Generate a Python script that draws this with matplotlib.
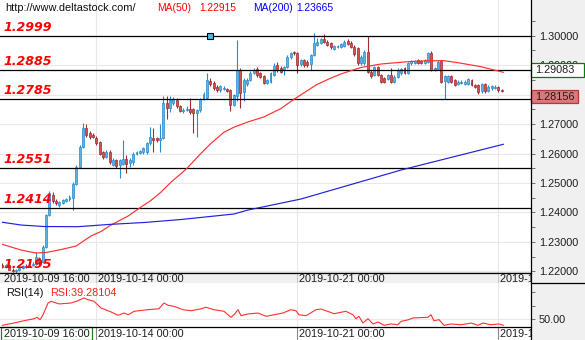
import matplotlib
matplotlib.use('Agg')
import matplotlib.pyplot as plt
from matplotlib.patches import Rectangle
from matplotlib.lines import Line2D
from matplotlib.transforms import Bbox, TransformedBbox, blended_transform_factory, offset_copy
import numpy as np

plt.rcParams['font.family'] = ['Liberation Sans', 'DejaVu Sans']

# ---------------- data ----------------
opens = [1.2222,1.2216,1.2221,1.2206,1.2200,1.2205,1.2211,1.2219,1.2215,1.2223,
         1.2226,1.2245,1.2232,1.2284,1.2392,1.2460,1.2440,1.2425,1.2432,1.2440,
         1.2444,1.2448,1.2498,1.2555,1.2623,1.2686,1.2670,1.2663,1.2653,1.2638,
         1.2605,1.2588,1.2605,1.2561,1.2578,1.2561,1.2566,1.2583,1.2567,1.2571,
         1.2600,1.2603,1.2605,1.2605,1.2634,1.2651,1.2651,1.2645,1.2652,1.2772,
         1.2754,1.2771,1.2782,1.2761,1.2743,1.2748,1.2751,1.2751,1.2737,1.2748,
         1.2786,1.2790,1.2847,1.2839,1.2827,1.2815,1.2819,1.2818,1.2815,1.2764,
         1.2795,1.2884,1.2810,1.2836,1.2850,1.2874,1.2886,1.2872,1.2863,1.2840,
         1.2844,1.2867,1.2900,1.2892,1.2883,1.2894,1.2927,1.2944,1.2940,1.2903,
         1.2917,1.2912,1.2903,1.2934,1.2969,1.2976,1.2988,1.2980,1.2974,1.2955,
         1.2961,1.2962,1.2965,1.2983,1.2976,1.2963,1.2958,1.2906,1.2908,1.2946,
         1.2878,1.2866,1.2894,1.2866,1.2855,1.2852,1.2866,1.2844,1.2859,1.2873,
         1.2889,1.2874,1.2906,1.2907,1.2917,1.2915,1.2908,1.2912,1.2940,1.2884,
         1.2887,1.2915,1.2847,1.2844,1.2863,1.2850,1.2836,1.2839,1.2836,1.2836,
         1.2850,1.2833,1.2833,1.2813,1.2836,1.2813,1.2821,1.2822,1.2826,1.2815]
highs = [1.2228,1.2225,1.2224,1.2210,1.2208,1.2214,1.2222,1.2224,1.2226,1.2230,
         1.2264,1.2250,1.2290,1.2395,1.2472,1.2468,1.2446,1.2440,1.2447,1.2450,
         1.2460,1.2502,1.2560,1.2630,1.2704,1.2700,1.2676,1.2670,1.2658,1.2642,
         1.2610,1.2612,1.2612,1.2584,1.2582,1.2582,1.2646,1.2595,1.2585,1.2606,
         1.2610,1.2612,1.2622,1.2640,1.2691,1.2685,1.2656,1.2700,1.2795,1.2795,
         1.2795,1.2792,1.2790,1.2765,1.2755,1.2760,1.2787,1.2756,1.2752,1.2790,
         1.2808,1.2874,1.2855,1.2845,1.2832,1.2833,1.2830,1.2822,1.2820,1.2802,
         1.2985,1.2892,1.2856,1.2856,1.2880,1.2890,1.2895,1.2876,1.2866,1.2853,
         1.2876,1.2908,1.2912,1.2896,1.2898,1.2933,1.2946,1.2948,1.2945,1.2920,
         1.2921,1.2916,1.2938,1.3010,1.2991,1.2992,1.3006,1.2985,1.2978,1.2968,
         1.2970,1.2976,1.2984,1.2988,1.2982,1.2967,1.2962,1.2933,1.2950,1.2999,
         1.2882,1.2898,1.2898,1.2870,1.2860,1.2870,1.2889,1.2866,1.2889,1.2890,
         1.2893,1.2910,1.2918,1.2919,1.2921,1.2919,1.2921,1.2944,1.2948,1.2893,
         1.2916,1.2919,1.2867,1.2867,1.2867,1.2854,1.2848,1.2848,1.2848,1.2856,
         1.2854,1.2837,1.2837,1.2839,1.2840,1.2831,1.2834,1.2831,1.2830,1.2818]
lows = [1.2212,1.2210,1.2203,1.2196,1.2195,1.2201,1.2208,1.2212,1.2213,1.2218,
        1.2220,1.2222,1.2228,1.2280,1.2388,1.2432,1.2425,1.2420,1.2428,1.2436,
        1.2440,1.2408,1.2494,1.2550,1.2618,1.2655,1.2650,1.2652,1.2630,1.2595,
        1.2583,1.2584,1.2566,1.2557,1.2550,1.2517,1.2560,1.2534,1.2555,1.2560,
        1.2596,1.2600,1.2600,1.2600,1.2628,1.2606,1.2640,1.2606,1.2648,1.2717,
        1.2740,1.2765,1.2755,1.2740,1.2738,1.2744,1.2735,1.2670,1.2655,1.2742,
        1.2780,1.2785,1.2830,1.2815,1.2810,1.2810,1.2815,1.2808,1.2745,1.2760,
        1.2778,1.2754,1.2778,1.2830,1.2845,1.2870,1.2860,1.2855,1.2835,1.2836,
        1.2840,1.2862,1.2878,1.2872,1.2866,1.2890,1.2922,1.2935,1.2872,1.2898,
        1.2895,1.2895,1.2884,1.2930,1.2965,1.2972,1.2975,1.2964,1.2956,1.2950,
        1.2957,1.2958,1.2960,1.2968,1.2958,1.2932,1.2900,1.2900,1.2902,1.2874,
        1.2858,1.2862,1.2862,1.2838,1.2840,1.2848,1.2840,1.2840,1.2855,1.2868,
        1.2870,1.2870,1.2901,1.2903,1.2904,1.2904,1.2904,1.2908,1.2880,1.2880,
        1.2883,1.2840,1.2784,1.2840,1.2840,1.2829,1.2832,1.2835,1.2832,1.2832,
        1.2829,1.2821,1.2802,1.2806,1.2806,1.2809,1.2817,1.2818,1.2810,1.2808]
closes = [1.2216,1.2221,1.2206,1.2200,1.2205,1.2211,1.2219,1.2215,1.2223,1.2226,
          1.2248,1.2230,1.2284,1.2392,1.2466,1.2440,1.2432,1.2436,1.2442,1.2446,
          1.2454,1.2498,1.2555,1.2623,1.2686,1.2663,1.2656,1.2657,1.2636,1.2600,
          1.2588,1.2605,1.2571,1.2578,1.2556,1.2578,1.2583,1.2566,1.2578,1.2600,
          1.2605,1.2607,1.2617,1.2634,1.2656,1.2645,1.2645,1.2651,1.2771,1.2753,
          1.2781,1.2784,1.2761,1.2745,1.2749,1.2752,1.2740,1.2737,1.2748,1.2786,
          1.2803,1.2850,1.2836,1.2821,1.2816,1.2828,1.2824,1.2813,1.2764,1.2798,
          1.2884,1.2805,1.2850,1.2850,1.2874,1.2884,1.2866,1.2860,1.2840,1.2849,
          1.2872,1.2897,1.2883,1.2877,1.2894,1.2929,1.2942,1.2940,1.2900,1.2916,
          1.2900,1.2900,1.2934,1.2974,1.2980,1.2988,1.2980,1.2969,1.2961,1.2964,
          1.2966,1.2972,1.2980,1.2972,1.2963,1.2937,1.2906,1.2929,1.2946,1.2878,
          1.2863,1.2894,1.2866,1.2844,1.2844,1.2866,1.2844,1.2861,1.2883,1.2886,
          1.2874,1.2906,1.2914,1.2915,1.2908,1.2908,1.2917,1.2940,1.2884,1.2889,
          1.2912,1.2844,1.2863,1.2863,1.2844,1.2833,1.2844,1.2844,1.2844,1.2852,
          1.2833,1.2825,1.2810,1.2835,1.2813,1.2827,1.2830,1.2827,1.2814,1.2811]

ma50_idx = [0, 5.5, 10, 13, 17.5, 22, 26.4, 29.4, 32.4, 37.5, 40.7, 44.3, 47.3, 50.3,
            53.3, 55.4, 59.3, 62.2, 66.1, 69.1, 73.3, 78, 83.1, 87, 89.1, 93.6, 97.2,
            101, 104, 107, 113, 121, 127, 131.8, 136, 142.8, 149.5]
ma50_val = [1.22915, 1.22723, 1.22622, 1.22639, 1.22740, 1.22859, 1.23199, 1.23352,
            1.23573, 1.23878, 1.24133, 1.24405, 1.24688, 1.25028, 1.25316, 1.25537,
            1.26012, 1.26340, 1.26723, 1.26893, 1.27073, 1.27240, 1.27526, 1.27841,
            1.27994, 1.28326, 1.28520, 1.28700, 1.28812, 1.28920, 1.29039, 1.29117,
            1.29151, 1.29151, 1.29083, 1.28948, 1.28757]
ma200_idx = [0, 5.5, 12.4, 22.5, 32.4, 42.2, 53.3, 69.1, 73.3, 89.1, 119, 149.5]
ma200_val = [1.23665, 1.23572, 1.23521, 1.23515, 1.23596, 1.23657, 1.23759, 1.23946,
             1.24082, 1.24455, 1.25440, 1.26313]

rsi_idx = [0, 3.4, 6.4, 9.4, 10.3, 11.2, 12.1, 13.6, 14.5, 16.9, 20.4, 22.5, 24.3, 25.5,
           27.3, 29.4, 32.4, 34.5, 36.3, 37.5, 39.3, 43.4, 46.7, 48.2, 49.4, 51.2, 53.9,
           56.3, 59.3, 60.7, 63.1, 66.1, 68.2, 69.1, 70.3, 71.2, 73.3, 76.3, 78.7, 81,
           83.7, 86.1, 87.6, 88.5, 90.6, 93.6, 95.1, 99, 102.5, 104.6, 105.5, 106.4,
           107.6, 109.1, 110.6, 112.1, 113.9, 116, 118, 119, 121.3, 122.5, 127, 127.9,
           128.8, 130.3, 131.8, 133.9, 136.9, 139.9, 141.9, 143.4, 145.8, 148.2, 149.5]
rsi_val = [45.3, 47.0, 48.7, 50.2, 51.3, 49.5, 53.2, 62.0, 63.3, 61.3, 62.0, 63.7, 65.8,
           64.5, 63.3, 58.3, 55.3, 52.8, 54.5, 53.2, 55.8, 57.0, 57.7, 62.0, 60.3, 59.5,
           57.0, 56.2, 57.7, 58.8, 57.0, 55.8, 51.3, 53.2, 57.0, 52.5, 53.8, 54.5, 52.0,
           53.2, 54.5, 57.0, 56.2, 53.2, 52.5, 57.0, 57.5, 54.0, 55.8, 53.2, 50.2, 52.0,
           47.0, 50.2, 46.3, 47.8, 45.3, 46.3, 45.7, 48.3, 49.5, 50.8, 51.3, 53.2, 48.7,
           49.5, 45.3, 46.3, 45.7, 47.0, 45.3, 47.0, 45.7, 46.3, 45.3]

levels = [1.2999, 1.2885, 1.2785, 1.2551, 1.2414, 1.2195]
level_labels = ['1.2999', '1.2885', '1.2785', '1.2551', '1.2414', '1.2195']
date_idx = [0, 28, 88, 148]
date_labels = ['2019-10-09 16:00', '2019-10-14 00:00', '2019-10-21 00:00', '2019-10-28 00:00']
price_ticks = [1.22, 1.23, 1.24, 1.25, 1.26, 1.27, 1.28, 1.29, 1.30]
# 1.28000 is fully hidden behind the current-price box in the reference
price_tick_labels = ['1.22000', '1.23000', '1.24000', '1.25000', '1.26000', '1.27000',
                     '', '1.29000', '1.30000']
marker_idx, marker_price = 62, 1.2999

# ---------------- layout ----------------
W, H = 585, 340
fig = plt.figure(figsize=(5.85, 3.4), dpi=100)
fig.patch.set_facecolor('white')

def fx(px): return px / W
def fy(py): return 1 - py / H

PLOT_R = 531
MAIN_B = 272.7
RSI_T, RSI_B = 283.0, 327.3
FS = 7.8

ax = fig.add_axes([0, fy(MAIN_B), fx(PLOT_R), MAIN_B / H])
axr = fig.add_axes([0, fy(RSI_B), fx(PLOT_R), (RSI_B - RSI_T) / H])

xmin, xmax = -0.746, 157.76
for a in (ax, axr):
    a.set_xlim(xmin, xmax)
    a.set_facecolor('white')
    for s in a.spines.values():
        s.set_visible(False)
    a.set_xticks([])
    a.yaxis.tick_right()
    a.tick_params(axis='y', which='both', direction='out', length=2.9, width=0.7,
                  color='#707070', pad=2.9, labelsize=FS, labelcolor='#1e1e1e')
    for gx in date_idx[1:]:
        a.axvline(gx, color='#e8e8e8', lw=0.8, zorder=0)

ax.set_ylim(1.21953, 1.31212)
axr.set_ylim(43.8, 77)

ax.set_yticks(price_ticks)
ax.set_yticklabels(price_tick_labels)
ax.set_yticks([t + 0.005 for t in price_ticks], minor=True)
for t in price_ticks:
    ax.axhline(t, color='#e8e8e8', lw=0.8, zorder=0)

axr.set_yticks([50, 60, 70])
axr.set_yticklabels(['50.00', '', ''])
axr.axhline(50, color='#e8e8e8', lw=0.8, zorder=0)

# ---------------- candles ----------------
O = np.array(opens); C = np.array(closes); Hh = np.array(highs); L = np.array(lows)
idx = np.arange(len(O))
up = C >= O
bull_fill, bull_edge = '#5cb3e6', '#2a8ad0'
bear_fill, bear_edge = '#c95557', '#a32a2e'
ax.vlines(idx[up], L[up], Hh[up], color=bull_edge, lw=0.8, zorder=3)
ax.vlines(idx[~up], L[~up], Hh[~up], color=bear_edge, lw=0.8, zorder=3)
body_lo = np.minimum(O, C)
body_h = np.maximum(np.abs(C - O), 0.00012)
ax.bar(idx[up], body_h[up], bottom=body_lo[up], width=0.58, color=bull_fill,
       edgecolor=bull_edge, lw=0.5, zorder=4)
ax.bar(idx[~up], body_h[~up], bottom=body_lo[~up], width=0.58, color=bear_fill,
       edgecolor=bear_edge, lw=0.5, zorder=4)

# moving averages
ax.plot(ma50_idx, ma50_val, color='#ff3030', lw=0.85, zorder=6)
ax.plot(ma200_idx, ma200_val, color='#2020e0', lw=0.85, zorder=6)

# levels
lab_tr = offset_copy(blended_transform_factory(ax.transAxes, ax.transData), fig=fig,
                     x=0, y=5, units='dots')
for lv, lb in zip(levels, level_labels):
    ax.axhline(lv, color='black', lw=0.9, zorder=5)
    ax.text(3 / PLOT_R, lv, lb, transform=lab_tr, ha='left', va='baseline',
            family='DejaVu Sans', fontweight='bold', fontstyle='italic',
            fontsize=9.1, color='#ff0000', zorder=7)

ax.plot([marker_idx], [marker_price], marker='s', ms=4.3, mfc='#4db8ea', mec='black',
        mew=0.8, zorder=8, linestyle='none')

# RSI
axr.plot(rsi_idx, rsi_val, color='#ff3030', lw=0.8, zorder=3)

# ---------------- decorations ----------------
fig.patches.append(Rectangle((fx(PLOT_R), 0), fx(W - PLOT_R), 1, transform=fig.transFigure,
                             fc='#f0f0f0', ec='none', zorder=-1))
fig.patches.append(Rectangle((0, fy(RSI_T)), fx(PLOT_R), (RSI_T - MAIN_B) / H,
                             transform=fig.transFigure, fc='#f0f0f0', ec='none', zorder=-1))

def fline(x0, x1, y0, y1, **kw):
    fig.add_artist(Line2D([fx(x0), fx(x1)], [fy(y0), fy(y1)], transform=fig.transFigure, **kw))

fline(0, PLOT_R, MAIN_B, MAIN_B, color='black', lw=0.9, zorder=5)
fline(0, PLOT_R, RSI_B, RSI_B, color='black', lw=0.9, zorder=5)
fline(PLOT_R, PLOT_R, 0, H, color='black', lw=0.9, zorder=5)
fline(PLOT_R, W, RSI_T, RSI_T, color='black', lw=0.9, zorder=5)

# band tick lines
for gx in date_idx[1:]:
    ax.vlines(gx, -(RSI_T - MAIN_B) / MAIN_B, 0, transform=ax.get_xaxis_transform(),
              color='#c8c8c8', lw=0.8, clip_on=False)
    axr.vlines(gx, -(H - RSI_B) / (RSI_B - RSI_T), 0, transform=axr.get_xaxis_transform(),
               color='#8a8a8a', lw=0.8, clip_on=False)

clipbox = TransformedBbox(Bbox([[0, 0], [fx(PLOT_R), 1]]), fig.transFigure)
tr_top = offset_copy(ax.get_xaxis_transform(), fig=fig, x=1.5, y=0, units='dots')
tr_bot = offset_copy(axr.get_xaxis_transform(), fig=fig, x=1.5, y=0, units='dots')
for gi, gl in zip(date_idx, date_labels):
    t = ax.text(gi, -(279 - MAIN_B) / MAIN_B, gl, transform=tr_top, ha='left',
                va='center', fontsize=FS, color='#1e1e1e', clip_on=True)
    t.set_clip_box(clipbox)
    t2 = axr.text(gi, -(334.2 - RSI_B) / (RSI_B - RSI_T), gl, transform=tr_bot,
                  ha='left', va='center', fontsize=FS, color='#1e1e1e', clip_on=True)
    t2.set_clip_box(clipbox)

fig.patches.append(Rectangle((fx(1), fy(339.6)), fx(91), 12.2 / H, transform=fig.transFigure,
                             fill=False, ec='#2a7a2a', lw=0.9, zorder=2))

# header
HFS = 7.4
fig.text(fx(5), fy(8), 'http://www.deltastock.com/', va='center', ha='left',
         fontsize=7.9, color='#111111')
fig.text(fx(157), fy(8), 'MA(50)', va='center', ha='left', fontsize=HFS, color='#ff0000')
fig.text(fx(199), fy(8), '1.22915', va='center', ha='left', fontsize=HFS, color='#ff0000')
fig.text(fx(253), fy(8), 'MA(200)', va='center', ha='left', fontsize=HFS, color='#0000ff')
fig.text(fx(296), fy(8), '1.23665', va='center', ha='left', fontsize=HFS, color='#0000ff')

fig.text(fx(6), fy(292.5), 'RSI(14)', va='center', ha='left', fontsize=FS, color='#111111')
fig.text(fx(50), fy(292.5), 'RSI:39.28104', va='center', ha='left', fontsize=FS,
         color='#ff2020')

# price boxes
fig.patches.append(Rectangle((fx(PLOT_R), fy(77)), fx(53), 14 / H, transform=fig.transFigure,
                             fc='white', ec='#0a7a0a', lw=0.9, zorder=2))
fig.text(fx(535), fy(70), '1.29083', va='center', ha='left', fontsize=FS, color='#1e1e1e')
fig.patches.append(Rectangle((fx(PLOT_R), fy(103)), fx(47), 13 / H, transform=fig.transFigure,
                             fc='#d97a7a', ec='#b03a3a', lw=0.9, zorder=2))
fig.text(fx(535), fy(96.5), '1.28156', va='center', ha='left', fontsize=FS, color='#1e1e1e')

fig.savefig('out.png', dpi=100)
